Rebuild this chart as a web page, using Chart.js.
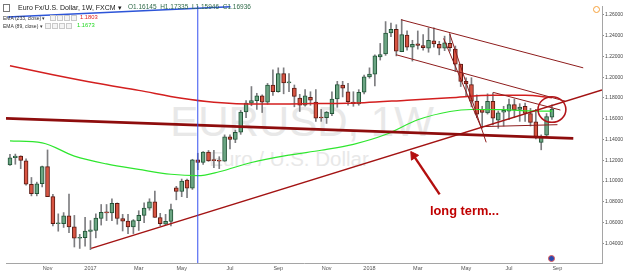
<!DOCTYPE html>
<html>
<head>
<meta charset="utf-8">
<script src="https://cdn.jsdelivr.net/npm/chart.js@4.4.0/dist/chart.umd.min.js"></script>
<style>
  html, body { margin: 0; padding: 0; background: #fff; }
  #wrap { position: relative; width: 625px; height: 275px; overflow: hidden;
          font-family: "Liberation Sans", Arial, sans-serif; }
  #chart { position: absolute; left: 0; top: 0; z-index: 1; }
  .wm { position: absolute; z-index: 0; color: #e8e8e8; white-space: nowrap; line-height: 1; }
  .hd { position: absolute; z-index: 2; white-space: nowrap; line-height: 1; }
  .box { position: absolute; z-index: 2; width: 4px; height: 4px; border: 1px solid #c9c9c9; background: #f4f4f4; }
</style>
</head>
<body>
<div id="wrap">
  <div class="wm" style="left:0;width:604px;text-align:center;top:101px;font-size:42px;">EURUSD, 1W</div>
  <div class="wm" style="left:0;width:578px;text-align:center;top:149px;font-size:20.5px;">Euro / U.S. Dollar</div>
  <canvas id="chart" width="625" height="275"></canvas>

  <div class="box" style="left:3px;top:4px;width:5px;height:6px;border-color:#777;background:#fff"></div>
  <div class="hd" style="left:18px;top:4px;font-size:7px;color:#1a1a1a;">Euro Fx/U.S. Dollar, 1W, FXCM ▾</div>
  <div class="hd" style="left:128px;top:4px;font-size:6.5px;color:#2f6a48;">O1.16145&nbsp; H1.17335&nbsp; L1.15946&nbsp; C1.16936</div>

  <div class="hd" style="left:3px;top:15.5px;font-size:5px;color:#333;">EMA (233, close) ▾</div>
  <div class="box" style="left:50px;top:15px"></div>
  <div class="box" style="left:57px;top:15px"></div>
  <div class="box" style="left:64px;top:15px"></div>
  <div class="box" style="left:71px;top:15px"></div>
  <div class="hd" style="left:80px;top:15px;font-size:5.8px;color:#e01e1e;">1.1803</div>

  <div class="hd" style="left:3px;top:23.5px;font-size:5px;color:#333;">EMA (89, close) ▾</div>
  <div class="box" style="left:45px;top:23px"></div>
  <div class="box" style="left:52px;top:23px"></div>
  <div class="box" style="left:59px;top:23px"></div>
  <div class="box" style="left:66px;top:23px"></div>
  <div class="hd" style="left:77px;top:23px;font-size:5.8px;color:#1ed81e;">1.1673</div>

  <div class="hd" style="left:593px;top:6px;width:5px;height:5px;border:1px solid #f5a03a;border-radius:50%;"></div>
  <div class="hd" style="left:548px;top:255px;width:5px;height:5px;background:#2a4bb0;border:1px solid #e05a5a;border-radius:50%;"></div>

  <div class="hd" style="left:430px;top:205px;font-size:12.8px;font-weight:bold;color:#c00000;">long term...</div>
</div>

<script>
// weekly EUR/USD, FXCM, first bar = week of 19 Sep 2016
const firstWeek = Date.UTC(2016, 8, 19);
const weekCount = 111; // bars + empty weeks on the right

const open = [
  1.1155, 1.1225, 1.1240, 1.1195, 1.0970, 1.0880, 1.0975, 1.1140, 1.0850, 1.0590,
  1.0590, 1.0665, 1.0560, 1.0450, 1.0455, 1.0515, 1.0525, 1.0640, 1.0700, 1.0695,
  1.0785, 1.0640, 1.0615, 1.0560, 1.0620, 1.0670, 1.0740, 1.0800, 1.0650, 1.0585,
  1.0612, 1.0935, 1.0900, 1.1010, 1.0932, 1.1205, 1.1180, 1.1280, 1.1200, 1.1197,
  1.1193, 1.1425, 1.1400, 1.1470, 1.1665, 1.1750, 1.1775, 1.1820, 1.1760, 1.1925,
  1.1860, 1.2035, 1.1945, 1.1895, 1.1800, 1.1730, 1.1805, 1.1760, 1.1612, 1.1610,
  1.1650, 1.1790, 1.1925, 1.1860, 1.1760, 1.1742, 1.1855, 1.2003, 1.2030, 1.2195,
  1.2225, 1.2425, 1.2460, 1.2245, 1.2405, 1.2290, 1.2320, 1.2305, 1.2280, 1.2350,
  1.2315, 1.2280, 1.2325, 1.2270, 1.2125, 1.1960, 1.1930, 1.1770, 1.1690, 1.1657,
  1.1767, 1.1587, 1.1663, 1.1673, 1.1736, 1.1689, 1.1720, 1.1651, 1.1570, 1.1372,
  1.1441, 1.16145
];
const high = [
  1.1258, 1.1260, 1.1244, 1.1215, 1.1035, 1.0990, 1.1145, 1.1300, 1.0873, 1.0685,
  1.0697, 1.0874, 1.0670, 1.0488, 1.0652, 1.0620, 1.0685, 1.0775, 1.0775, 1.0830,
  1.0790, 1.0680, 1.0680, 1.0630, 1.0715, 1.0790, 1.0830, 1.0905, 1.0690, 1.0680,
  1.0780, 1.0950, 1.1020, 1.1020, 1.1210, 1.1268, 1.1285, 1.1295, 1.1296, 1.1235,
  1.1445, 1.1445, 1.1490, 1.1680, 1.1775, 1.1910, 1.1845, 1.1830, 1.1940, 1.2070,
  1.2090, 1.2090, 1.2035, 1.1925, 1.1835, 1.1880, 1.1860, 1.1880, 1.1690, 1.1670,
  1.1860, 1.1960, 1.1960, 1.1940, 1.1860, 1.1880, 1.2020, 1.2090, 1.2215, 1.2325,
  1.2535, 1.2520, 1.2505, 1.2555, 1.2445, 1.2355, 1.2445, 1.2410, 1.2475, 1.2475,
  1.2345, 1.2395, 1.2415, 1.2300, 1.2125, 1.1995, 1.1995, 1.1830, 1.1720, 1.1840,
  1.1850, 1.1675, 1.1720, 1.1790, 1.1790, 1.1745, 1.1750, 1.1700, 1.1690, 1.1445,
  1.1650, 1.17335
];
const low = [
  1.1150, 1.1162, 1.1120, 1.0960, 1.0858, 1.0858, 1.0944, 1.0850, 1.0570, 1.0518,
  1.0554, 1.0505, 1.0366, 1.0352, 1.0375, 1.0340, 1.0454, 1.0577, 1.0620, 1.0620,
  1.0585, 1.0520, 1.0494, 1.0495, 1.0525, 1.0600, 1.0720, 1.0650, 1.0570, 1.0580,
  1.0570, 1.0820, 1.0850, 1.0840, 1.0920, 1.1110, 1.1160, 1.1190, 1.1130, 1.1120,
  1.1190, 1.1310, 1.1370, 1.1450, 1.1610, 1.1725, 1.1690, 1.1660, 1.1740, 1.1825,
  1.1855, 1.1840, 1.1860, 1.1715, 1.1670, 1.1720, 1.1730, 1.1575, 1.1575, 1.1555,
  1.1630, 1.1710, 1.1810, 1.1730, 1.1720, 1.1730, 1.1840, 1.1990, 1.1915, 1.2165,
  1.2210, 1.2390, 1.2205, 1.2245, 1.2260, 1.2155, 1.2270, 1.2260, 1.2240, 1.2290,
  1.2215, 1.2255, 1.2250, 1.2055, 1.1910, 1.1820, 1.1715, 1.1610, 1.1510, 1.1645,
  1.1540, 1.1508, 1.1530, 1.1590, 1.1610, 1.1575, 1.1575, 1.1530, 1.1405, 1.1301,
  1.1430, 1.15946
];
const close = [
  1.1225, 1.1240, 1.1200, 1.0970, 1.0880, 1.0975, 1.1140, 1.0850, 1.0590, 1.0590,
  1.0665, 1.0560, 1.0450, 1.0455, 1.0520, 1.0530, 1.0645, 1.0700, 1.0695, 1.0785,
  1.0640, 1.0615, 1.0560, 1.0620, 1.0670, 1.0740, 1.0800, 1.0650, 1.0590, 1.0612,
  1.0725, 1.0900, 1.1000, 1.0932, 1.1205, 1.1180, 1.1280, 1.1195, 1.1197, 1.1193,
  1.1425, 1.1400, 1.1470, 1.1665, 1.1750, 1.1775, 1.1820, 1.1760, 1.1925, 1.1860,
  1.2035, 1.1945, 1.1950, 1.1815, 1.1730, 1.1820, 1.1780, 1.1605, 1.1607, 1.1665,
  1.1790, 1.1930, 1.1895, 1.1765, 1.1745, 1.1855, 1.2003, 1.2030, 1.2205, 1.2218,
  1.2425, 1.2460, 1.2250, 1.2410, 1.2290, 1.2315, 1.2305, 1.2285, 1.2355, 1.2320,
  1.2280, 1.2330, 1.2285, 1.2125, 1.1960, 1.1935, 1.1770, 1.1645, 1.1660, 1.1767,
  1.1605, 1.1657, 1.1680, 1.1736, 1.1685, 1.1712, 1.1651, 1.1565, 1.1422, 1.1428,
  1.1622, 1.16936
];

// EMA readings: [week index, value]
const ema233 = [
  [0, 1.2109], [8, 1.2024], [16, 1.1944], [24, 1.1873], [32, 1.1798], [38, 1.1760],
  [46, 1.1741], [56, 1.1746], [66, 1.1755], [74, 1.1779], [82, 1.1802], [90, 1.1826],
  [96, 1.1826], [101, 1.1803]
];
const ema89 = [
  [0, 1.1387], [6, 1.1368], [12, 1.1241], [18, 1.1165], [24, 1.1113], [30, 1.1066],
  [35, 1.1052], [39, 1.1090], [45, 1.1179], [52, 1.1250], [58, 1.1297], [64, 1.1354],
  [70, 1.1448], [76, 1.1590], [82, 1.1670], [86, 1.1689], [92, 1.1687], [97, 1.1675],
  [101, 1.1673]
];

// hand drawn lines: [week index, price]
const thickSupport = [[-0.74, 1.1604], [104.98, 1.1411]];
const longUptrend = [[15.13, 1.0353], [110.33, 1.1876]];
const channelTop = [[72.88, 1.2553], [106.83, 1.2090]];
const channelLow = [[71.96, 1.2216], [103.5, 1.1769]];
const steepRight = [[81.92, 1.2421], [88.75, 1.1373]];
const steepLeft = [[80.81, 1.2373], [87.82, 1.1514]];
const flagTop = [[90.04, 1.1854], [102.58, 1.1684]];
const flagBottom = [[87.82, 1.1524], [102.03, 1.1543]];
const blueTop = [[-0.42, 1.2578], [41.1, 1.2678]];
const blueVertical = [[35, 1.0], [35, 1.3]];
const arrowLine = [[80.07, 1.0872], [75.22, 1.1245]];
const arrowHead = [[75.22, 1.1245]];
const markCircle = [101.0, 1.1689, 2.6, 0.0123]; // centre idx, centre price, radius weeks, radius price

const yTicks = [1.04, 1.06, 1.08, 1.10, 1.12, 1.14, 1.16, 1.18, 1.20, 1.22, 1.24, 1.26];
const xTickMonths = ['2016-11', '2017-01', '2017-03', '2017-05', '2017-07', '2017-09',
                     '2017-11', '2018-01', '2018-03', '2018-05', '2018-07', '2018-09'];
const xTickLabels = ['Nov', '2017', 'Mar', 'May', 'Jul', 'Sep', 'Nov', '2018', 'Mar', 'May', 'Jul', 'Sep'];

const weekDates = Array.from({length: weekCount}, (_, i) => new Date(firstWeek + i * 7 * 864e5));
const xTickIdx = xTickMonths.map(m => weekDates.findIndex(d => d.toISOString().slice(0, 7) === m));

const UP = '#6ba583', UP_B = '#225437', DN = '#d75442', DN_B = '#5b1a13';
const isUp = open.map((o, i) => close[i] >= o);

const wickData = open.map((_, i) => ({x: i, y: [low[i], high[i]]}));
const bodyData = open.map((o, i) => ({x: i, y: [o, close[i]]}));

function lineDs(pts, color, width, extra) {
  return Object.assign({
    type: 'line',
    data: pts.map(([x, y]) => ({x, y})),
    borderColor: color,
    borderWidth: width,
    pointRadius: 0,
    fill: false,
    tension: 0,
    order: 1
  }, extra || {});
}

const ellipsePlugin = {
  id: 'ellipse',
  afterDatasetsDraw(chart) {
    const {ctx, scales: {x, y}} = chart;
    const cx = x.getPixelForValue(markCircle[0]);
    const cy = y.getPixelForValue(markCircle[1]);
    const rx = Math.abs(x.getPixelForValue(markCircle[0] + markCircle[2]) - cx);
    const ry = Math.abs(y.getPixelForValue(markCircle[1] + markCircle[3]) - cy);
    ctx.save();
    ctx.beginPath();
    ctx.ellipse(cx, cy, rx, ry, 0, 0, Math.PI * 2);
    ctx.strokeStyle = '#b3161b';
    ctx.lineWidth = 1.6;
    ctx.stroke();
    ctx.restore();
  }
};

new Chart(document.getElementById('chart'), {
  type: 'bar',
  data: {
    datasets: [
      {
        type: 'bar', data: wickData, backgroundColor: '#7d7d80',
        barThickness: 1, grouped: false, order: 10
      },
      {
        type: 'bar', data: bodyData,
        backgroundColor: isUp.map(u => u ? UP : DN),
        borderColor: isUp.map(u => u ? UP_B : DN_B),
        borderWidth: 1, borderSkipped: false,
        barThickness: 4, minBarLength: 1, grouped: false, order: 9
      },
      lineDs(ema233, '#d31f1f', 1.5, {cubicInterpolationMode: 'monotone', order: 5}),
      lineDs(ema89, '#2ee62e', 1.2, {cubicInterpolationMode: 'monotone', order: 5}),
      lineDs(blueVertical, '#3550f0', 1),
      lineDs(blueTop, '#2d55d8', 1.5),
      lineDs(thickSupport, '#8e0d0d', 2.8),
      lineDs(longUptrend, '#a31313', 1.5),
      lineDs(channelTop, '#8e1c1c', 1),
      lineDs(channelLow, '#8e1c1c', 1),
      lineDs(steepRight, '#8e1c1c', 1),
      lineDs(steepLeft, '#8e1c1c', 1),
      lineDs(flagTop, '#8e1c1c', 1),
      lineDs(flagBottom, '#8e1c1c', 1),
      lineDs(arrowLine, '#b30f0f', 2.4),
      lineDs(arrowHead, '#b30f0f', 1, {
        pointRadius: 5, pointStyle: 'triangle', pointRotation: -34,
        pointBackgroundColor: '#b30f0f', pointBorderColor: '#b30f0f', showLine: false
      })
    ]
  },
  options: {
    responsive: false,
    animation: false,
    events: [],
    layout: {padding: {top: 1, left: 0, right: 0, bottom: 0}},
    plugins: {legend: {display: false}, tooltip: {enabled: false}},
    scales: {
      x: {
        type: 'linear', min: -0.74, max: 110.33, offset: false,
        grid: {drawOnChartArea: false, drawTicks: false},
        border: {display: true, color: '#a5a5a5'},
        ticks: {
          autoSkip: false, maxRotation: 0, padding: 2, color: '#555',
          font: {size: 5.5, family: 'Liberation Sans, Arial, sans-serif'},
          callback: (v, i) => xTickLabels[i]
        },
        afterBuildTicks: s => { s.ticks = xTickIdx.map(v => ({value: v})); },
        afterFit: s => { s.height = 12; }
      },
      y: {
        type: 'linear', position: 'right', min: 1.0212, max: 1.2685,
        grid: {drawOnChartArea: false, tickLength: 2, color: '#8a8a8a'},
        border: {display: true, color: '#a5a5a5'},
        ticks: {
          padding: 1, color: '#444',
          font: {size: 5, family: 'Liberation Sans, Arial, sans-serif'},
          callback: v => v.toFixed(5)
        },
        afterBuildTicks: s => { s.ticks = yTicks.map(v => ({value: v})); },
        afterFit: s => { s.width = 23; }
      }
    }
  },
  plugins: [ellipsePlugin]
});
</script>
</body>
</html>
